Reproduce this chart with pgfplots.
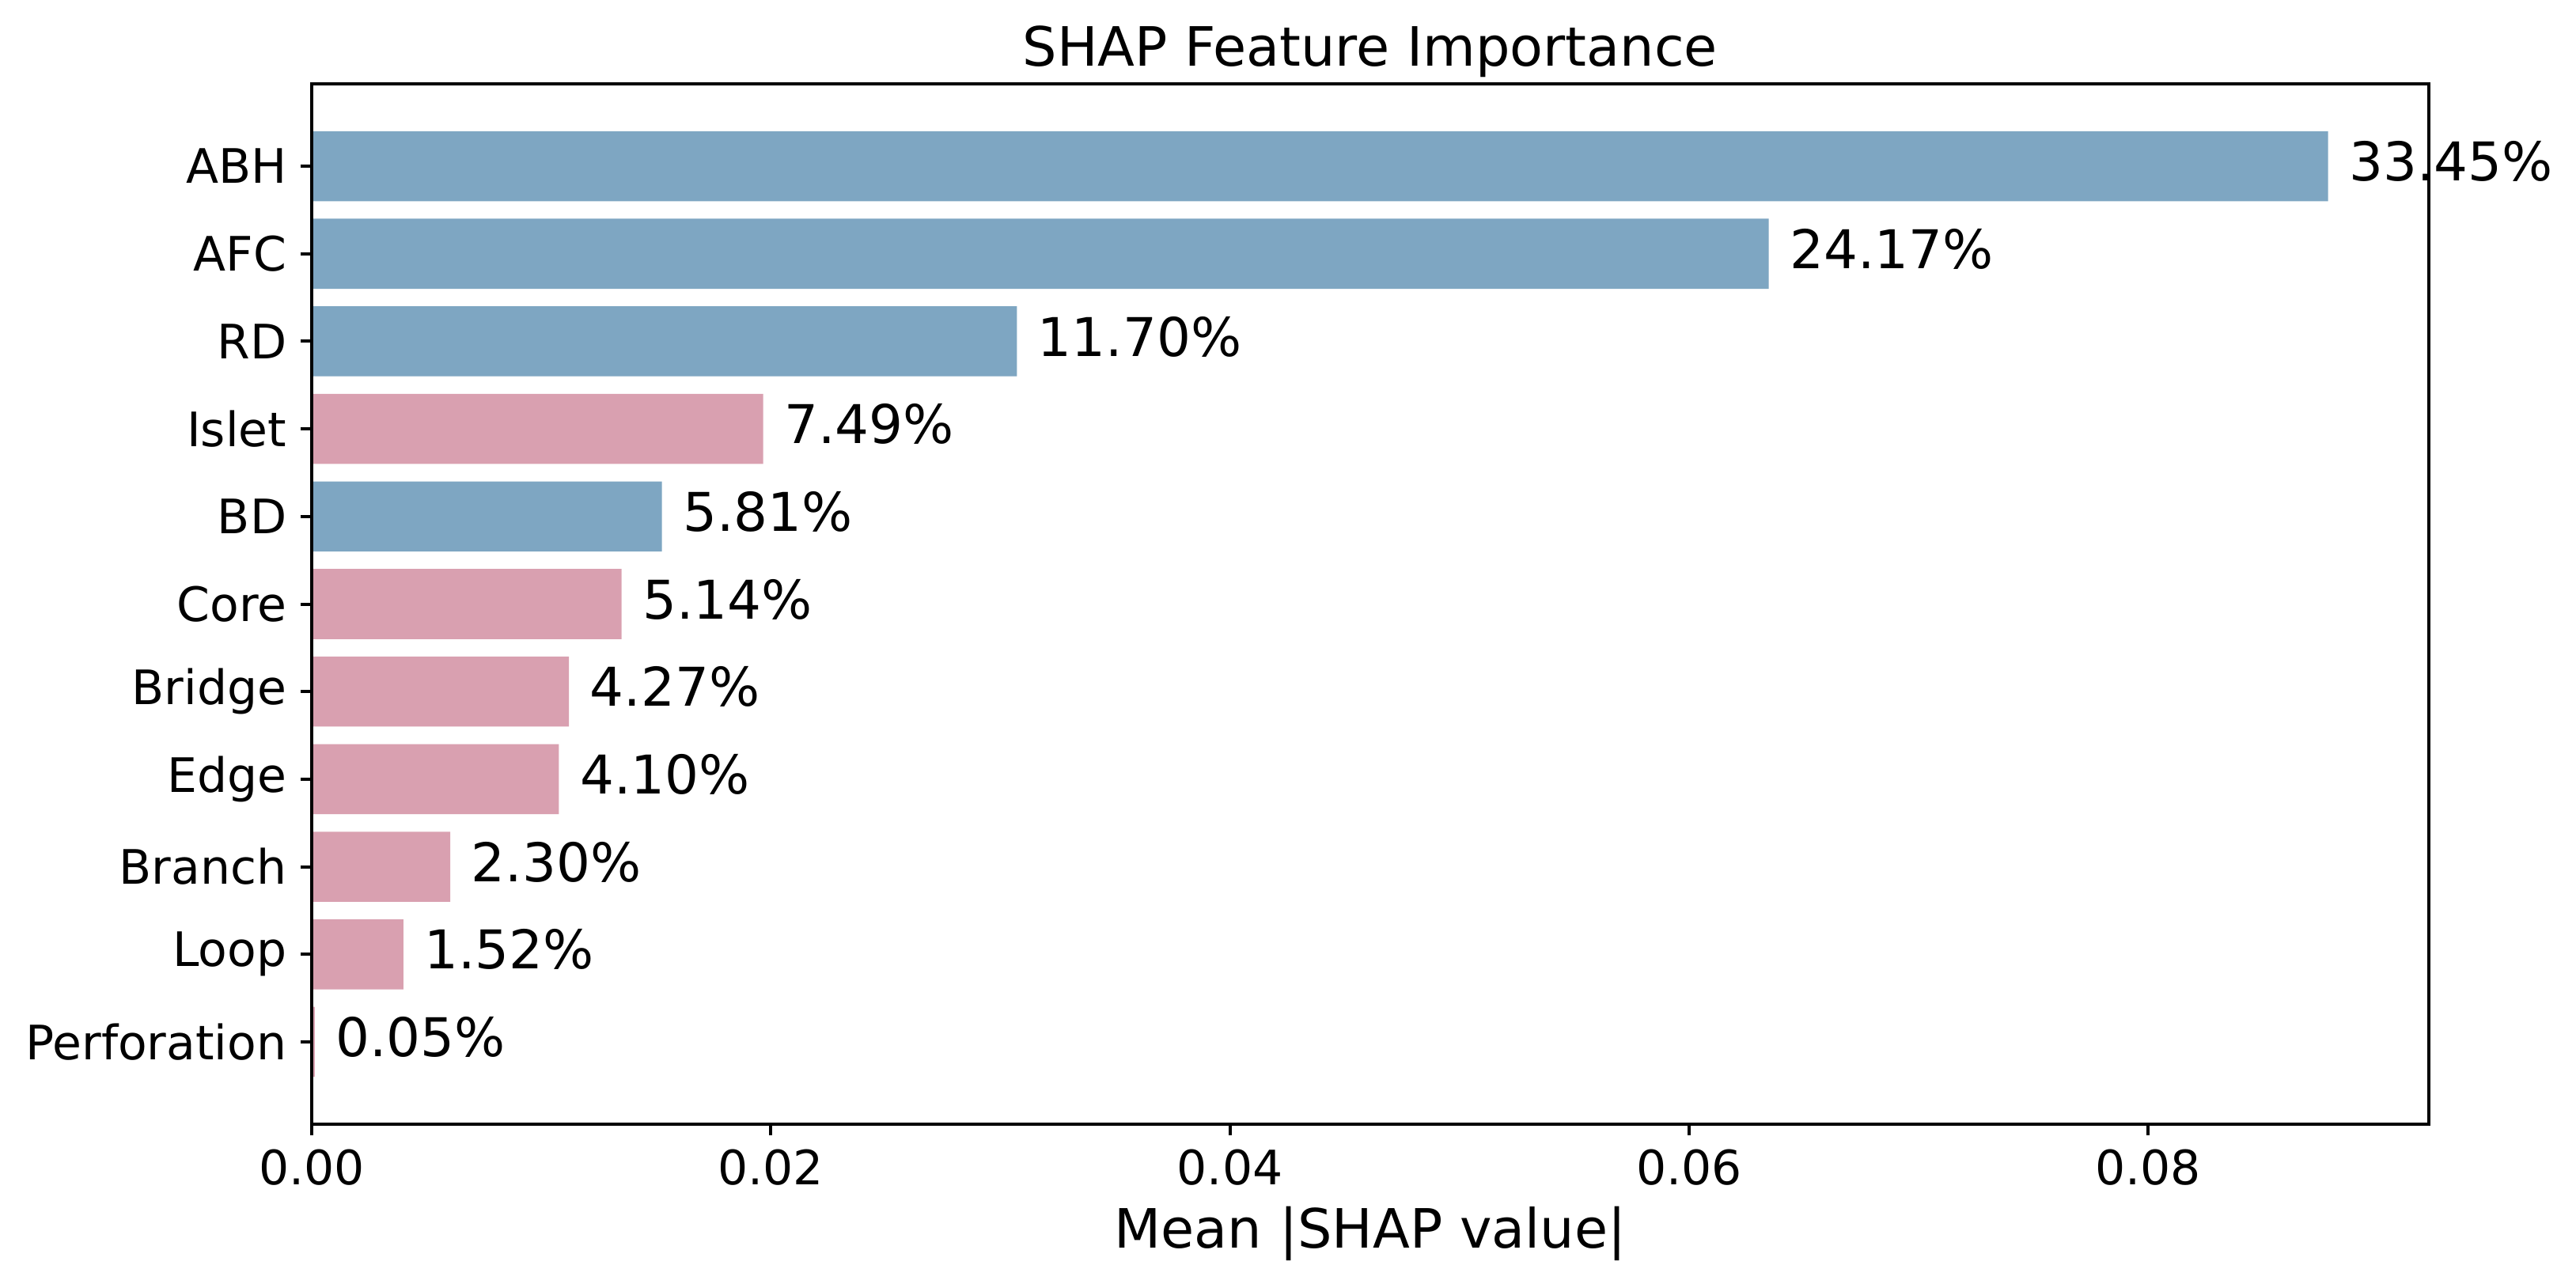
\documentclass[border=0pt]{standalone}
\usepackage{fontspec}
\setmainfont{DejaVu Sans}
\usepackage{pgfplots}
\pgfplotsset{compat=1.18}
\definecolor{barblue}{HTML}{7EA6C2}
\definecolor{barpink}{HTML}{D9A0B0}
\begin{document}
\begin{tikzpicture}
\useasboundingbox (-78.8pt,-40.2pt) rectangle (572.4pt,284.2pt);
\begin{axis}[
  at={(0pt,0pt)}, anchor=south west,
  scale only axis, width=535.2pt, height=263pt,
  xmin=0, xmax=0.092232, ymin=-0.94, ymax=10.94, y dir=reverse,
  xbar, bar width=0.8, bar shift=0pt,
  clip=false, axis on top,
  ytick={0,1,2,3,4,5,6,7,8,9,10},
  yticklabels={ABH,AFC,RD,Islet,BD,Core,Bridge,Edge,Branch,Loop,Perforation},
  xtick={0,0.02,0.04,0.06,0.08},
  scaled x ticks=false,
  xticklabel style={/pgf/number format/.cd, fixed, fixed zerofill, precision=2, assume math mode=true},
  tick label style={font=\fontsize{12}{14}\selectfont},
  xtick pos=bottom, ytick pos=left,
  tick align=outside, major tick length=2.8pt,
  tick style={black, line width=0.8pt},
  axis line style={black, line width=0.8pt},
  title={SHAP Feature Importance},
  title style={at={(axis description cs:0.5,1)}, anchor=base, yshift=-1.4pt, font=\fontsize{13.7}{16}\selectfont, inner sep=0pt},
  xlabel={Mean |SHAP value|},
  xlabel style={at={(axis description cs:0.5,0)}, anchor=base, yshift=-31.2pt, font=\fontsize{13.7}{16}\selectfont, inner sep=0pt},
  nodes near coords={\pgfplotspointmeta\%},
  point meta=explicit symbolic,
  every node near coord/.append style={font=\fontsize{13.5}{16}\selectfont, black, anchor=west, xshift=1.8pt, yshift=1.2pt},
]
\addplot[fill=barblue, draw=none] table[x=v, y=i, meta=p] {
i v p
0 0.08784 33.45
1 0.06347 24.17
2 0.03072 11.70
4 0.01526 5.81
};
\addplot[fill=barpink, draw=none] table[x=v, y=i, meta=p] {
i v p
3 0.01967 7.49
5 0.01350 5.14
6 0.01121 4.27
7 0.01077 4.10
8 0.00604 2.30
9 0.00399 1.52
10 0.000131 0.05
};
\end{axis}
\end{tikzpicture}
\end{document}
